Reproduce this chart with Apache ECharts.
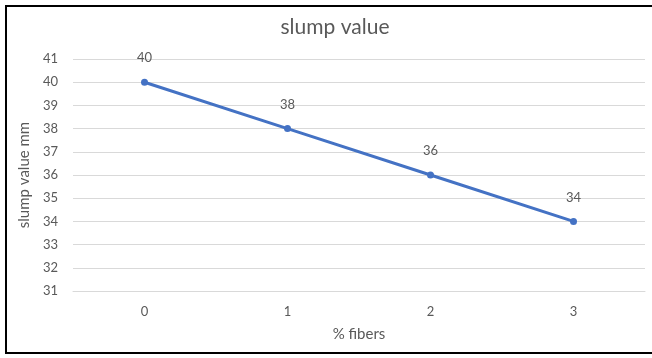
<!DOCTYPE html>
<html>
<head>
<meta charset="utf-8">
<script src="https://cdn.jsdelivr.net/npm/echarts@6/dist/echarts.min.js"></script>
<style>
html,body{margin:0;padding:0;background:#fff;}
#frame{position:absolute;left:5px;top:5px;width:660px;height:349px;border:2px solid #000;box-sizing:border-box;}
#chart{position:absolute;left:0;top:0;width:652px;height:358px;}
</style>
</head>
<body>
<div id="frame"></div>
<div id="chart"></div>
<script>
var categories = ['0', '1', '2', '3'];
var slumpValues = [40, 38, 36, 34];
var yMin = 31, yMax = 41, yStep = 1;

var chart = echarts.init(document.getElementById('chart'), null, {renderer: 'canvas'});
var txt = '#595959';
var font = 'Lato, "Open Sans", sans-serif';
chart.setOption({
  animation: false,
  backgroundColor: 'transparent',
  title: {
    text: 'slump value',
    left: 330, top: 12, textAlign: 'center',
    textStyle: {fontFamily: font, fontSize: 21, fontWeight: 'normal', color: txt}
  },
  grid: {left: 73, right: 7, top: 59, bottom: 67},
  xAxis: {
    type: 'category',
    data: categories,
    boundaryGap: true,
    name: '% fibers',
    nameLocation: 'middle',
    nameGap: 36,
    nameTextStyle: {fontFamily: font, fontSize: 15, color: txt},
    axisLine: {show: true, lineStyle: {color: '#d9d9d9'}},
    axisTick: {show: false},
    axisLabel: {fontFamily: font, fontSize: 13, color: txt, margin: 14}
  },
  yAxis: {
    type: 'value',
    min: yMin, max: yMax, interval: yStep,
    name: 'slump value mm',
    nameLocation: 'middle',
    nameGap: 35,
    nameTextStyle: {fontFamily: font, fontSize: 15, color: txt},
    axisLine: {show: false},
    axisTick: {show: false},
    axisLabel: {fontFamily: font, fontSize: 13, color: txt, margin: 15},
    splitLine: {lineStyle: {color: '#d9d9d9', width: 1}}
  },
  series: [{
    type: 'line',
    data: slumpValues,
    symbol: 'circle',
    symbolSize: 7,
    lineStyle: {color: '#4472C4', width: 3},
    itemStyle: {color: '#4472C4'},
    label: {show: true, position: 'top', distance: 14, fontFamily: font, fontSize: 13, color: txt}
  }]
});
</script>
</body>
</html>
